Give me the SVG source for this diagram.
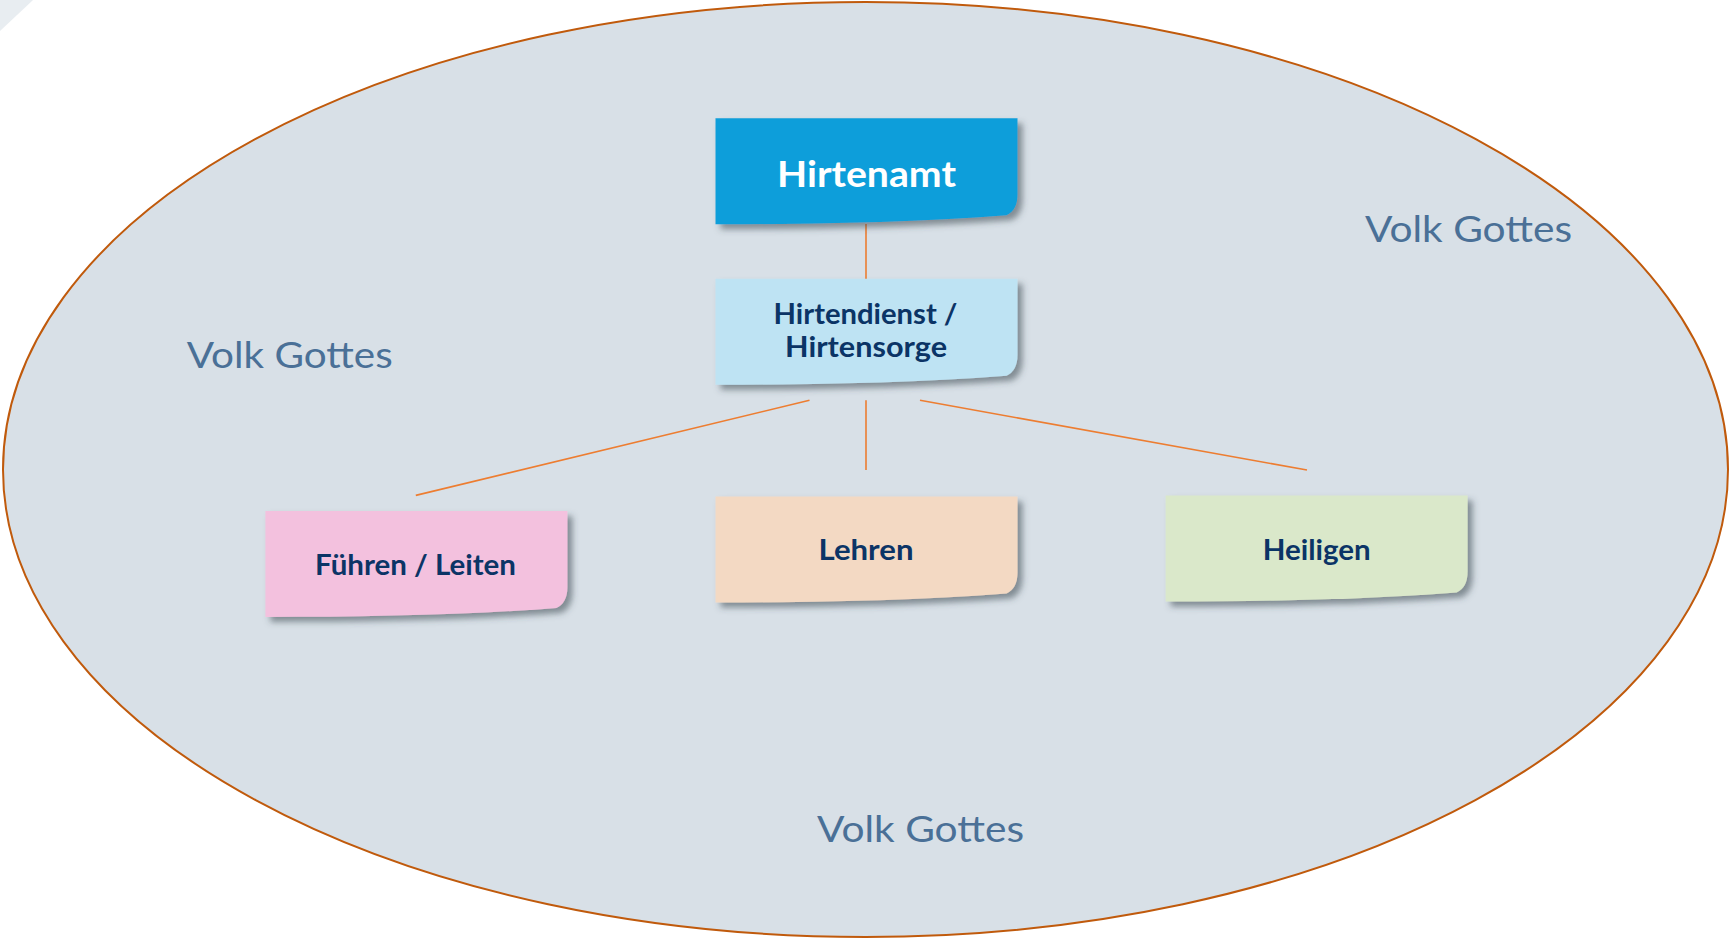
<svg xmlns="http://www.w3.org/2000/svg" width="1734" height="939" viewBox="0 0 1734 939">
  <defs>
    <filter id="sh" x="-10%" y="-10%" width="130%" height="140%">
      <feDropShadow dx="5" dy="5" stdDeviation="3" flood-color="#3a4650" flood-opacity="0.55"/>
    </filter>
    <path id="note" d="M0,0 H302 V76 Q302,92 291,97 C200,104 100,106 0,106 Z"/>
  </defs>
  <style>
    .conn { stroke: #ED7D31; stroke-width: 1.6; fill: none; }
    .lbl { font-family: "Lato", "Noto Sans", sans-serif; font-weight: bold; fill: #0B3466; text-anchor: middle; }
    .volk { font-family: "Lato", "Noto Sans", sans-serif; font-size: 36px; fill: #4A7097; }
  </style>
  <rect width="1734" height="939" fill="#ffffff"/>
  <polygon points="0,0 33,0 0,31" fill="#e8edf1"/>
  <ellipse id="volk" cx="865.5" cy="469.5" rx="862.5" ry="467.5" fill="#D8E0E7" stroke="#C05A0C" stroke-width="2"/>

  <g id="connectors">
    <line class="conn" x1="866" y1="224" x2="866" y2="279"/>
    <line class="conn" x1="809.5" y1="400.3" x2="415.8" y2="495.4"/>
    <line class="conn" x1="866" y1="400.3" x2="866" y2="470"/>
    <line class="conn" x1="920" y1="400.3" x2="1307" y2="470"/>
  </g>

  <g id="hirtenamt">
    <use href="#note" x="715.5" y="118.3" fill="#0E9EDA" filter="url(#sh)"/>
    <text class="lbl" x="866.5" y="187" font-size="36" style="fill:#ffffff" textLength="179" lengthAdjust="spacingAndGlyphs">Hirtenamt</text>
  </g>
  <g id="hirtendienst">
    <use href="#note" x="715.5" y="278.7" fill="#BEE3F3" filter="url(#sh)"/>
    <text class="lbl" x="865.5" y="324" font-size="28" textLength="184" lengthAdjust="spacingAndGlyphs">Hirtendienst /</text>
    <text class="lbl" x="866" y="357" font-size="28" textLength="162" lengthAdjust="spacingAndGlyphs">Hirtensorge</text>
  </g>
  <g id="fuehren">
    <use href="#note" x="265.4" y="511" fill="#F3C1DE" filter="url(#sh)"/>
    <text class="lbl" x="415.5" y="575" font-size="29" textLength="201" lengthAdjust="spacingAndGlyphs">Führen / Leiten</text>
  </g>
  <g id="lehren">
    <use href="#note" x="715.5" y="496.5" fill="#F3D9C3" filter="url(#sh)"/>
    <text class="lbl" x="866" y="560" font-size="29" textLength="95" lengthAdjust="spacingAndGlyphs">Lehren</text>
  </g>
  <g id="heiligen">
    <use href="#note" x="1165.6" y="495.6" fill="#DAE8CA" filter="url(#sh)"/>
    <text class="lbl" x="1316.7" y="560" font-size="29" textLength="108" lengthAdjust="spacingAndGlyphs">Heiligen</text>
  </g>

  <g id="labels">
    <text class="volk" x="186.7" y="368" textLength="206" lengthAdjust="spacingAndGlyphs">Volk Gottes</text>
    <text class="volk" x="1365" y="242" textLength="207" lengthAdjust="spacingAndGlyphs">Volk Gottes</text>
    <text class="volk" x="817" y="842" textLength="207" lengthAdjust="spacingAndGlyphs">Volk Gottes</text>
  </g>
</svg>
